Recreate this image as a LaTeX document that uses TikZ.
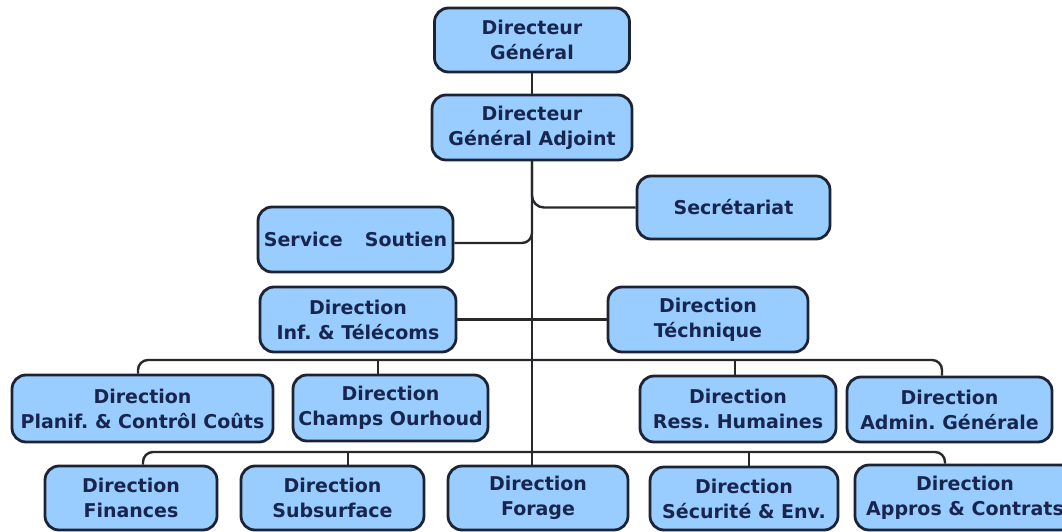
\documentclass[tikz,border=0pt]{standalone}
\usepackage{fontspec}
\setmainfont{DejaVu Sans}
\frenchspacing
\definecolor{boxfill}{RGB}{153,204,255}
\definecolor{boxline}{RGB}{28,36,52}
\definecolor{boxtext}{RGB}{24,38,78}
\definecolor{connline}{RGB}{40,40,44}
\begin{document}
\begin{tikzpicture}[x=1pt,y=-1pt,
  box/.style={draw=boxline, line width=2.8pt, fill=boxfill, rounded corners=14pt,
    inner sep=0pt, align=center, text=boxtext,
    font=\bfseries\fontsize{19}{25}\selectfont},
  sz/.style 2 args={minimum width=#1pt, minimum height=#2pt},
  conn/.style={draw=connline, line width=2.4pt}]
\useasboundingbox (0,0) rectangle (1062,532);
\fill[white] (0,0) rectangle (1062,532);
\clip (0,0) rectangle (1062,532);
% nodes
\node[box, sz={195}{64}] (DG) at (532,40) {Directeur\\Général};
\node[box, sz={200}{65}] (DGA) at (532,127.5) {Directeur\\Général Adjoint};
\node[box, sz={193}{63}] (Sec) at (733.5,207.5) {Secrétariat};
\node[box, sz={195}{65}] (Soutien) at (355.5,239.5) {Service\hspace{22pt}Soutien};
\node[box, sz={196}{65}] (Inf) at (358,319.5) {Direction\\Inf. \& Télécoms};
\node[box, sz={200}{65}] (Tech) at (708,319.5) {Direction\\Téchnique};
\node[box, sz={261}{67}] (Planif) at (142.5,408.5) {Direction\\Planif. \& Contrôl Coûts};
\node[box, sz={195}{66}] (Champs) at (390.5,408) {Direction\\Champs Ourhoud};
\node[box, sz={196}{66}] (Ress) at (738,409) {Direction\\Ress. Humaines};
\node[box, sz={205}{65}] (Admin) at (949.5,409.5) {Direction\\Admin. Générale};
\node[box, sz={172}{64}] (Finances) at (131,498) {Direction\\Finances};
\node[box, sz={183}{64}] (Subsurface) at (332.5,498) {Direction\\Subsurface};
\node[box, sz={180}{64}] (Forage) at (538,498) {Direction\\Forage};
\node[box, sz={188}{63}] (Securite) at (744,498.5) {Direction\\Sécurité \& Env.};
\node[box, sz={220}{65}] (Appros) at (965,497.5) {Direction\\Appros \& Contrats};
% connectors
\coordinate (bus2) at (532,360);
\coordinate (bus3) at (532,452);
\draw[conn] (DG.south) -- (DGA.north);
\draw[conn] (DGA.south) -- (DGA.south |- Forage.north);
\draw[conn, rounded corners=12pt] (DGA.south) |- (Sec.west);
\draw[conn, rounded corners=10pt] (DGA.south) |- ([yshift=-3.5pt]Soutien.east);
\draw[conn] (Inf.east) -- (Tech.west);
\draw[conn, rounded corners=10pt] ([xshift=-4.5pt]Planif.north) |- (bus2) -| ([xshift=-7.5pt]Admin.north);
\draw[conn] ([xshift=-12.5pt]Champs.north) -- ([xshift=-12.5pt]Champs.north |- bus2);
\draw[conn] ([xshift=-3pt]Ress.north) -- ([xshift=-3pt]Ress.north |- bus2);
\draw[conn, rounded corners=10pt] ([xshift=12pt]Finances.north) |- (bus3) -| ([xshift=-20pt]Appros.north);
\draw[conn] ([xshift=15.5pt]Subsurface.north) -- ([xshift=15.5pt]Subsurface.north |- bus3);
\draw[conn] ([xshift=5pt]Securite.north) -- ([xshift=5pt]Securite.north |- bus3);
\end{tikzpicture}
\end{document}
